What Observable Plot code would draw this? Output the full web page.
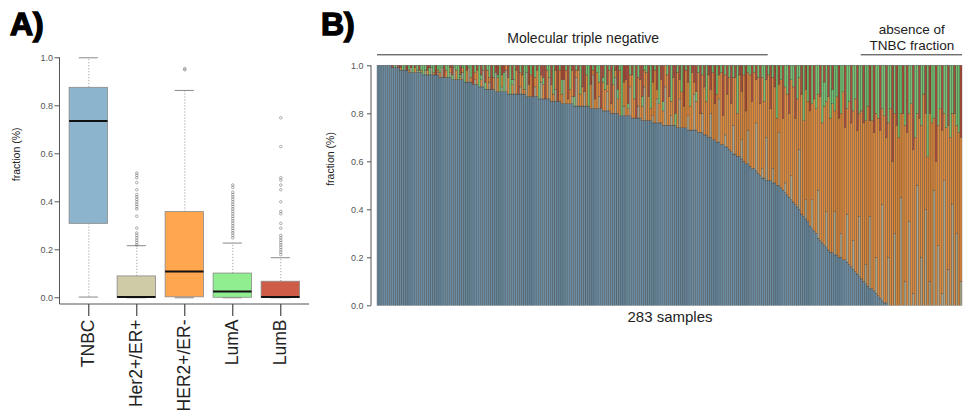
<!DOCTYPE html>
<html><head><meta charset="utf-8">
<script src="https://cdn.jsdelivr.net/npm/d3@7"></script>
<script src="https://cdn.jsdelivr.net/npm/@observablehq/plot@0.6"></script>
<style>
body{margin:0;background:#fff;}
#wrap{position:relative;width:964px;height:411px;overflow:hidden;font-family:"Liberation Sans",Arial,sans-serif;background:#fff;}
.pane{position:absolute;top:0;}
.plabel{position:absolute;font-size:32px;line-height:32px;font-weight:bold;color:#000;-webkit-text-stroke:1.4px #000;}
</style></head>
<body><div id="wrap">
<div id="pa" class="pane" style="left:0;width:320px;height:411px"></div>
<div id="pb" class="pane" style="left:320px;width:644px;height:411px"></div>
<div class="plabel" style="left:10px;top:8px">A)</div>
<div class="plabel" style="left:321px;top:8px">B)</div>
</div>
<script>
// ---------- categories ----------
const comps = ["TNBC","Her2+/ER+","HER2+/ER-","LumA","LumB"];
const colors = ["#8DB4CD","#CFCBA7","#FFA64F","#90EE90","#CD5D46"];
const colorsDense = ["#6C8CA1","#A9A68C","#DC8A3E","#72C272","#A94C39"];

// ---------- panel A: box statistics ----------
const boxQ1  = [0.308, 0.000, 0.002, 0.000, 0.000];
const boxMed = [0.737, 0.003, 0.110, 0.026, 0.003];
const boxQ3  = [0.875, 0.089, 0.357, 0.101, 0.067];
const whiskLo = [0.003, 0, 0, 0, 0];
const whiskHi = [1.000, 0.217, 0.864, 0.228, 0.167];
const outHer2Pos = [0.52,0.51,0.50,0.48,0.45,0.43,0.42,0.41,0.40,0.39,0.38,0.37,0.34,0.29,0.27,0.26,0.25,0.24,0.23,0.22];
const outHer2Neg = [0.955,0.95];
const outLumA = [0.47,0.46,0.44,0.43,0.42,0.41,0.40,0.39,0.38,0.37,0.36,0.35,0.34,0.33,0.32,0.31,0.30,0.29,0.28,0.27,0.26,0.25];
const outLumB = [0.75,0.63,0.50,0.49,0.47,0.45,0.40,0.36,0.35,0.31,0.29,0.26,0.25,0.24,0.23,0.22,0.21,0.20,0.19,0.18];
const yTicks = [0,0.2,0.4,0.6,0.8,1.0];

// ---------- panel B: per-sample fractions (%) ----------
const tnbc = [100,100,100,100,100,100,100,99,99,99,
99,98,98,98,98,97,97,97,97,97,
97,97,96,96,96,96,96,96,96,96,
95,95,95,95,95,95,94,94,94,94,
94,94,93,93,93,93,92,92,92,91,
91,91,90,90,90,90,90,89,89,89,
89,89,89,88,88,88,88,88,88,88,
88,88,87,87,87,87,87,87,86,86,
86,86,86,86,85,85,85,85,85,84,
84,84,84,84,84,83,83,83,83,83,
83,83,83,82,82,82,82,82,82,81,
81,81,81,80,80,80,80,79,79,79,
79,79,79,78,78,78,78,78,77,77,
77,77,77,76,76,76,76,76,75,75,
75,75,75,75,75,74,74,74,74,74,
73,73,73,73,73,72,72,72,71,71,
70,70,69,69,68,68,67,67,66,66,
65,64,63,63,62,62,61,60,59,59,
58,57,57,56,55,54,53,53,52,52,
52,51,51,50,50,49,48,47,46,45,
44,43,42,41,40,38,37,36,35,33,
32,31,30,28,27,26,25,24,23,22,
22,21,21,20,20,19,19,18,17,16,
15,14,13,12,11,10,9,8,7,7,
6,5,4,3,2,1,1,0,0,0,
0,0,0,0,0,0,0,0,0,0,
0,0,0,0,0,0,0,0,0,0,
0,0,0,0,0,0,0,0,0,0,
0,0,0];
const her2ErPos = [0,0,0,0,0,0,0,0,0,1,
0,0,0,1,0,0,2,0,0,1,
0,0,0,2,0,0,3,0,0,1,
0,4,0,0,0,2,0,5,0,0,
0,3,0,0,6,0,0,2,0,0,
0,7,0,0,3,0,0,8,0,0,
2,0,9,0,0,0,6,0,0,3,
0,0,10,0,0,0,4,0,0,7,
0,0,0,9,0,0,5,0,0,0,
10,0,0,0,3,0,12,0,0,0,
6,0,0,0,14,0,0,5,0,0,
0,8,0,0,0,15,0,0,0,4,
0,0,12,0,0,0,5,0,0,14,
0,0,0,3,0,10,0,0,0,16,
0,0,4,0,0,0,12,0,0,0,
6,0,0,15,0,0,0,8,0,0,
0,10,0,0,0,18,0,0,5,0,
0,0,12,0,0,0,8,0,0,14,
0,0,0,20,0,0,4,0,18,0,
0,6,0,0,22,0,0,4,0,0,
10,0,0,0,25,0,0,8,0,0,
12,0,0,20,0,0,0,15,0,0,
0,18,0,0,10,0,0,20,0,0,
12,0,0,25,0,0,8,0,30,0,
0,15,0,0,40,0,0,20,0,0,
30,0,0,45,0,10,0,35,0,5,
0,50,0,20,0,40,0,10,0,48,
0,25,0,5,52,0,15,0,42,0,
30,0,10];
const her2ErNeg = [0,0,0,0,0,0,0,0,0,0,
0,1,0,0,0,1,0,0,2,0,
0,1,0,0,2,0,0,1,0,1,
2,0,0,3,0,2,0,0,4,0,
1,2,0,5,0,2,0,3,6,0,
3,0,0,8,2,0,5,0,6,0,
5,0,2,7,0,4,0,10,0,6,
8,2,0,5,9,0,4,11,0,3,
6,0,12,0,7,3,8,0,13,4,
0,14,2,6,11,0,3,15,5,8,
0,13,0,10,2,4,15,6,0,12,
9,3,17,4,12,3,6,19,0,10,
15,3,5,18,8,0,12,16,6,7,
20,10,5,14,22,4,8,18,6,9,
21,12,6,20,0,23,8,15,9,24,
14,10,24,5,12,25,8,16,20,14,
26,10,28,15,20,10,30,12,25,22,
30,20,20,32,18,34,20,36,22,24,
38,28,40,18,40,30,38,32,24,44,
30,38,40,28,20,45,30,40,42,35,
40,48,36,45,30,50,40,46,50,48,
40,55,52,40,60,50,58,46,64,56,
62,42,66,58,50,70,55,44,68,60,
54,72,60,43,70,66,60,75,40,70,
66,60,74,70,40,78,69,56,82,60,
50,75,70,35,80,65,72,45,84,60,
70,30,78,55,88,40,62,70,76,30,
60,50,82,68,28,74,60,70,38,80,
45,72,60];
const lumA = [0,0,0,0,0,0,0,0,1,0,
0,0,2,1,0,2,0,3,0,2,
1,2,4,2,0,3,1,3,0,2,
3,1,0,2,5,0,2,1,2,6,
1,1,7,0,1,5,0,3,0,9,
2,2,3,2,5,0,5,0,1,11,
0,8,0,0,12,2,6,0,0,3,
0,10,3,0,4,0,5,0,14,0,
3,0,2,5,0,12,0,0,2,6,
0,2,0,10,0,4,2,0,12,0,
0,4,17,0,2,0,3,7,0,2,
10,0,2,0,8,0,4,2,21,0,
0,2,4,0,14,0,5,0,4,2,
3,0,18,0,2,0,16,0,4,0,
4,0,15,0,5,3,0,11,0,2,
0,17,0,0,4,3,0,4,0,15,
0,0,3,0,12,0,3,0,4,0,
5,0,5,0,20,0,0,4,0,3,
4,0,3,0,5,0,5,15,0,4,
0,5,0,22,0,6,0,9,12,0,
6,9,0,14,5,0,23,0,15,0,
16,0,18,12,0,24,10,15,0,22,
6,19,13,0,20,11,0,18,15,0,
19,14,0,20,19,0,23,17,0,23,
0,20,22,0,18,21,0,24,18,0,
20,0,30,20,0,25,0,20,16,0,
30,20,0,25,12,0,38,0,24,22,
0,25,18,0,20,26,0,30,20,0,
25,28,0];
const lumB = [0,0,0,0,0,0,0,1,0,0,
1,1,0,0,2,0,1,0,1,0,
2,0,0,0,2,1,0,0,4,0,
0,0,5,0,0,1,4,0,0,0,
4,0,0,2,0,0,8,0,2,0,
4,0,7,0,0,10,0,3,4,0,
4,3,0,5,0,6,0,2,12,0,
4,0,0,8,0,13,0,2,0,4,
5,14,0,0,8,0,2,15,0,6,
6,0,14,0,2,13,0,2,0,9,
11,0,0,8,0,14,0,0,18,5,
0,8,0,16,0,2,10,0,0,7,
6,16,0,4,0,22,0,6,13,0,
0,13,0,7,0,10,0,6,15,0,
0,13,0,5,20,0,6,0,17,0,
7,0,3,7,11,0,20,0,9,0,
4,10,0,16,0,4,0,21,0,12,
0,16,0,5,0,4,11,0,19,0,
0,15,0,6,0,16,0,0,6,0,
18,0,9,0,8,0,22,0,0,20,
0,0,22,0,0,12,0,10,0,19,
0,14,0,0,13,0,7,0,13,0,
10,0,0,22,0,0,26,0,0,24,
0,0,27,0,0,24,0,0,23,0,
28,0,0,27,0,0,30,0,0,40,
0,25,0,0,20,0,28,0,0,35,
0,0,22,0,0,20,0,20,0,0,
40,0,0,27,0,0,25,0,0,20,
0,0,30];

// annotation groups over sample indices
const groupLabels = ["Molecular triple negative", "absence of", "TNBC fraction"];
const groupFrom = [0, 234, 234];
const groupTo = [188, 282, 282];

// ---------- build tables ----------
const boxStats = comps.map((c, k) => ({cat: c, q1: boxQ1[k], med: boxMed[k], q3: boxQ3[k], lo: whiskLo[k], hi: whiskHi[k]}));
const outliers = [
  ...outHer2Pos.map(v => ({cat: comps[1], v})),
  ...outHer2Neg.map(v => ({cat: comps[2], v})),
  ...outLumA.map(v => ({cat: comps[3], v})),
  ...outLumB.map(v => ({cat: comps[4], v}))
];
const seriesB = [tnbc, her2ErPos, her2ErNeg, lumA, lumB];
const samples = tnbc.map((_, i) => i);
const tableB = [];
samples.forEach(i => comps.forEach((c, k) => tableB.push({i, comp: c, v: seriesB[k][i] / 100})));
const groups = groupLabels.map((label, k) => ({label, from: groupFrom[k], to: groupTo[k], mid: Math.round((groupFrom[k] + groupTo[k]) / 2)}));

const font = "'Liberation Sans', Arial, Helvetica, sans-serif";

// ---------- Panel A ----------
const chartA = Plot.plot({
  width: 320, height: 411,
  marginLeft: 59.5, marginRight: 10.9, marginTop: 57.3, marginBottom: 107,
  style: {fontFamily: font, background: "#fff", overflow: "visible"},
  x: {type: "band", domain: comps, padding: 0.2, round: false},
  y: {domain: [-0.028, 1.0]},
  color: {domain: comps, range: colors},
  marks: [
    Plot.ruleX(boxStats, {x: "cat", y1: "q3", y2: "hi", stroke: "#9a9a9a", strokeWidth: 0.9, strokeDasharray: "1.2,1.8"}),
    Plot.ruleX(boxStats, {x: "cat", y1: "lo", y2: "q1", stroke: "#9a9a9a", strokeWidth: 0.9, strokeDasharray: "1.2,1.8"}),
    Plot.tickY(boxStats, {x: "cat", y: "hi", stroke: "#888", strokeWidth: 1, insetLeft: 9.6, insetRight: 9.6}),
    Plot.tickY(boxStats, {x: "cat", y: "lo", stroke: "#888", strokeWidth: 1, insetLeft: 9.6, insetRight: 9.6}),
    Plot.barY(boxStats, {x: "cat", y1: "q1", y2: "q3", fill: "cat", stroke: "#8a8a8a", strokeWidth: 0.8}),
    Plot.tickY(boxStats, {x: "cat", y: "med", stroke: "#111", strokeWidth: 2}),
    Plot.dot(outliers, {x: "cat", y: "v", r: 1.3, fill: "none", stroke: "#555", strokeWidth: 0.6, strokeOpacity: 0.75}),
    Plot.axisY({ticks: yTicks, tickFormat: ".1f", tickSize: 5, tickPadding: 2, fontSize: 9, color: "#555", label: null}),
    Plot.axisX({tickRotate: -90, tickSize: 12, tickPadding: 3, fontSize: 17.5, color: "#222", label: null}),
    Plot.text(["fraction (%)"], {frameAnchor: "left", rotate: -90, dx: -43.5, fontSize: 10.5, fill: "#222"})
  ]
});
document.getElementById("pa").appendChild(chartA);
{
  const xs = chartA.scale("x"), ys = chartA.scale("y");
  const [xl, xr] = xs.range, yb = ys.range[0];
  const g = d3.select(chartA);
  g.append("line").attr("x1", xl).attr("x2", xl).attr("y1", ys.apply(1)).attr("y2", yb).attr("stroke", "#555");
  g.append("line").attr("x1", xl).attr("x2", xr).attr("y1", yb).attr("y2", yb).attr("stroke", "#555");
}

// ---------- Panel B ----------
const chartB = Plot.plot({
  width: 644, height: 411,
  marginLeft: 57, marginRight: 2, marginTop: 65.3, marginBottom: 105.7,
  style: {fontFamily: font, background: "#fff", overflow: "visible"},
  x: {type: "band", domain: samples, padding: 0, round: false, axis: null},
  y: {domain: [0, 1]},
  color: {domain: comps, range: colorsDense},
  marks: [
    Plot.barY(tableB, {x: "i", y: "v", fill: "comp", order: comps, stroke: "#222", strokeWidth: 0.45, strokeOpacity: 0.6}),
    Plot.axisY({ticks: yTicks, tickFormat: ".1f", tickSize: 4, tickPadding: 4, dx: -6, fontSize: 9, color: "#555", label: null}),
    Plot.text(["fraction (%)"], {frameAnchor: "left", rotate: -90, dx: -47, fontSize: 10.5, fill: "#222"}),
    Plot.text([`${tnbc.length} samples`], {frameAnchor: "bottom", dy: 16, fontSize: 15, fill: "#222"}),
    Plot.ruleY(groups.slice(0, 2), {x1: "from", x2: "to", y: 1, dy: -11, stroke: "#333", strokeWidth: 1}),
    Plot.text(groups.slice(0, 1), {x: d => d.mid + 5, y: 1, dy: -23, text: "label", lineAnchor: "bottom", fontSize: 14, fill: "#222"}),
    Plot.text(groups.slice(1, 2), {x: "mid", y: 1, dy: -31.5, text: "label", lineAnchor: "bottom", fontSize: 13.5, fill: "#222"}),
    Plot.text(groups.slice(2, 3), {x: "mid", y: 1, dy: -15.5, text: "label", lineAnchor: "bottom", fontSize: 13.5, fill: "#222"})
  ]
});
document.getElementById("pb").appendChild(chartB);
{
  const xs = chartB.scale("x"), ys = chartB.scale("y");
  const xa = xs.range[0] - 6;
  d3.select(chartB).append("line").attr("x1", xa).attr("x2", xa).attr("y1", ys.apply(0)).attr("y2", ys.apply(1)).attr("stroke", "#555");
}
</script>
</body></html>
